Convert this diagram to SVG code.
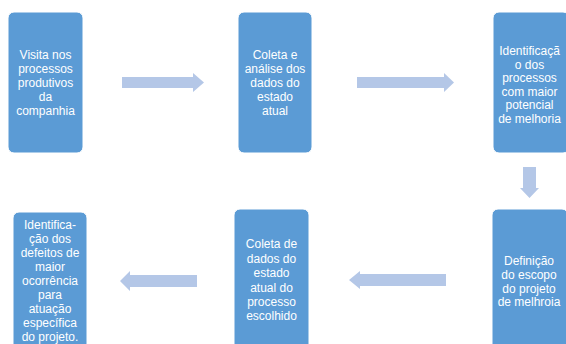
<svg xmlns="http://www.w3.org/2000/svg" width="566" height="344" viewBox="0 0 566 344">
<style>
.box{fill:#5B9BD5;stroke:#ffffff;stroke-width:1}
.arr{fill:#B4C7E7}
text{font-family:"Liberation Sans",Arial,sans-serif;font-size:12px;fill:#ffffff;text-anchor:middle}
</style>
<rect width="566" height="344" fill="#ffffff"/>
<g id="connectors">
<polygon class="arr" points="122,77 193,77 193,73 204,82.5 193,92 193,88 122,88"/>
<polygon class="arr" points="357,77 444,77 444,73 454,82.5 444,92 444,88 357,88"/>
<polygon class="arr" points="523,167 536,167 536,188 539,188 529.5,198 520,188 523,188"/>
<polygon class="arr" points="446,274 360,274 360,271 349,280 360,289 360,286 446,286"/>
<polygon class="arr" points="197,275 130,275 130,271 120,281 130,291 130,287 197,287"/>
</g>
<g id="n1">
<rect class="box" x="8" y="12" width="75" height="141" rx="6"/>
<text x="45.5" y="58.8">Visita nos</text>
<text x="45.5" y="72.8">processos</text>
<text x="45.5" y="86.8">produtivos</text>
<text x="45.5" y="100.8">da</text>
<text x="45.5" y="114.8">companhia</text>
</g>
<g id="n2">
<rect class="box" x="238" y="12" width="74" height="141" rx="6"/>
<text x="275" y="58.8">Coleta e</text>
<text x="275" y="72.8">análise dos</text>
<text x="275" y="86.8">dados do</text>
<text x="275" y="100.8">estado</text>
<text x="275" y="114.8">atual</text>
</g>
<g id="n3">
<rect class="box" x="493" y="12" width="76" height="141" rx="6"/>
<text x="529.5" y="55.3">Identificaçã</text>
<text x="529.5" y="68.8">o dos</text>
<text x="529.5" y="82.3">processos</text>
<text x="529.5" y="95.8">com maior</text>
<text x="529.5" y="109.3">potencial</text>
<text x="529.5" y="122.8">de melhoria</text>
</g>
<g id="n4">
<rect class="box" x="13" y="212" width="74" height="141" rx="6"/>
<text x="50" y="229.3">Identifica-</text>
<text x="50" y="243.3">ção dos</text>
<text x="50" y="257.3">defeitos de</text>
<text x="50" y="271.3">maior</text>
<text x="50" y="285.3">ocorrência</text>
<text x="50" y="299.3">para</text>
<text x="50" y="313.3">atuação</text>
<text x="50" y="327.3">específica</text>
<text x="50" y="341.3">do projeto.</text>
</g>
<g id="n5">
<rect class="box" x="234" y="209" width="75" height="141" rx="6"/>
<text x="271.5" y="248.3">Coleta de</text>
<text x="271.5" y="262.7">dados do</text>
<text x="271.5" y="277.1">estado</text>
<text x="271.5" y="291.5">atual do</text>
<text x="271.5" y="305.9">processo</text>
<text x="271.5" y="320.3">escolhido</text>
</g>
<g id="n6">
<rect class="box" x="492" y="209" width="76" height="141" rx="6"/>
<text x="529" y="265.3">Definição</text>
<text x="529" y="279">do escopo</text>
<text x="529" y="292.7">do projeto</text>
<text x="529" y="306.4">de melhroia</text>
</g>
</svg>
